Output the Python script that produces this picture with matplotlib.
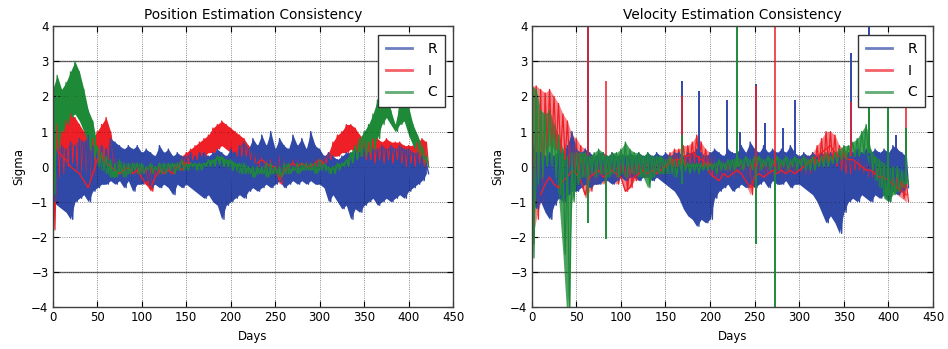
import numpy as np
import matplotlib
matplotlib.use("Agg")
import matplotlib.pyplot as plt
from matplotlib.lines import Line2D

days = np.arange(0, 421, 5)

# Position panel: upper / lower envelopes of each component
pos_R_hi = [0.7,0.5,0.6,0.5,0.7,0.6,0.8,0.7,0.9,0.6,0.5,0.6,0.5,0.8,0.7,0.6,0.5,0.6,0.5,0.6,
            0.4,0.5,0.4,0.3,0.6,0.4,0.5,0.3,0.4,0.3,0.3,0.4,0.3,0.4,0.4,0.3,0.4,0.5,0.4,0.3,
            0.5,0.4,0.6,0.7,0.5,0.8,0.6,0.9,0.6,1.0,0.5,0.8,0.6,0.5,0.9,0.6,0.8,0.5,1.0,0.6,
            0.5,0.3,0.4,0.3,0.2,0.3,0.4,0.4,0.5,0.4,0.5,0.4,0.5,0.5,0.6,0.5,0.6,0.5,0.6,0.5,
            0.5,0.4,0.4,0.3,0.1]
pos_R_lo = [-1.0,-1.1,-1.2,-1.3,-1.5,-1.0,-0.9,-0.8,-1.0,-0.7,-0.6,-0.5,-0.5,-0.4,-0.5,-0.4,-0.6,-0.4,-0.7,-0.5,
            -0.5,-0.4,-0.6,-0.5,-0.6,-0.5,-0.6,-0.8,-0.5,-0.6,-0.5,-0.6,-0.7,-0.8,-0.9,-0.8,-1.0,-1.1,-1.5,-1.1,
            -1.0,-0.9,-0.8,-0.9,-0.7,-0.6,-0.7,-0.6,-0.5,-0.6,-0.5,-0.4,-0.6,-0.5,-0.4,-0.5,-0.4,-0.5,-0.4,-0.5,
            -0.5,-0.6,-1.0,-0.8,-1.0,-1.2,-1.1,-1.5,-1.2,-1.3,-1.1,-1.0,-0.9,-1.1,-1.0,-0.9,-1.0,-0.9,-0.8,-0.9,
            -0.7,-0.6,-0.5,-0.4,-0.2]
pos_I_hi = [1.4,1.2,1.0,1.3,1.5,1.4,1.2,1.0,0.9,0.8,1.0,1.2,1.4,1.0,0.3,0.2,0.2,0.1,0.2,0.1,
            0.1,0.0,0.1,0.0,0.1,0.0,0.0,0.1,0.2,0.3,0.4,0.5,0.6,0.7,0.8,0.9,1.1,1.2,1.3,1.2,
            1.1,1.0,0.9,0.8,0.6,0.5,0.4,0.3,0.3,0.2,0.2,0.3,0.2,0.1,0.2,0.2,0.1,0.2,0.1,0.3,
            0.3,0.3,0.4,0.7,0.9,1.0,1.2,1.2,1.1,0.9,0.8,0.7,0.8,0.8,0.7,0.8,0.7,0.7,0.7,0.6,
            0.6,0.6,0.7,0.8,0.7]
pos_I_lo = [-1.8,-0.3,-0.2,0.0,0.1,-0.1,-0.2,-0.4,-0.6,-0.3,0.0,0.1,0.2,0.0,-0.2,-0.3,-0.3,-0.2,-0.3,-0.4,
            -0.3,-0.5,-0.7,-0.4,-0.3,-0.2,-0.3,-0.2,-0.1,0.0,0.1,0.2,0.2,0.3,0.3,0.4,0.4,0.5,0.6,0.5,
            0.4,0.3,0.3,0.3,0.2,0.1,0.0,-0.1,-0.1,-0.2,-0.1,-0.5,-0.2,-0.1,-0.1,0.0,-0.1,0.0,-0.1,0.0,
            0.0,0.1,0.2,0.3,0.3,0.4,0.4,0.5,0.4,0.3,0.2,0.2,0.1,0.2,0.1,0.2,0.1,0.2,0.1,0.0,
            0.1,0.0,0.1,0.0,0.0]
pos_I_trace = [np.nan,0.5,0.3,0.2,0.0,-0.1,-0.2,-0.4,-0.6,-0.2,0.2,0.3,0.1,0.0,-0.1,-0.2,-0.1,0.0,-0.2,-0.1,
               -0.3,-0.5,-0.6,-0.3,-0.1,-0.2,-0.1,-0.2,0.0,-0.1,0.1,0.1,np.nan,np.nan,np.nan,np.nan,np.nan,np.nan,np.nan,np.nan,
               np.nan,np.nan,np.nan,np.nan,np.nan,np.nan,0.1,0.2,0.1,0.0,0.0,-0.4,-0.1,0.0,0.1,0.0,0.1,0.0,0.0,0.1,
               0.2,0.1,np.nan,np.nan,np.nan,np.nan,np.nan,np.nan,np.nan,np.nan,np.nan,np.nan,np.nan,np.nan,np.nan,np.nan,np.nan,np.nan,np.nan,np.nan,
               np.nan,np.nan,np.nan,np.nan,np.nan]
pos_C_hi = [2.2,2.6,2.2,2.4,2.7,3.0,2.7,2.2,1.6,1.3,0.6,0.4,0.3,0.2,0.1,0.2,0.1,0.1,0.1,0.1,
            0.1,0.0,0.1,0.0,0.1,0.1,0.1,0.1,0.1,0.2,0.1,0.1,0.1,0.1,0.1,0.2,0.2,0.3,0.3,0.2,
            0.2,0.1,0.1,0.1,0.0,0.0,0.0,0.0,0.1,0.1,0.0,0.0,0.1,0.1,0.0,0.1,0.1,0.1,0.1,0.1,
            0.2,0.1,0.0,0.0,0.1,0.1,0.2,0.4,0.6,0.8,1.0,1.2,1.5,1.9,2.3,2.3,1.6,1.2,1.8,2.2,
            1.7,1.2,0.9,0.6,0.3]
pos_C_lo = [-0.8,0.5,1.0,1.2,1.4,1.5,1.3,1.0,0.6,0.3,0.0,-0.1,-0.2,-0.3,-0.3,-0.2,-0.3,-0.2,-0.1,-0.2,
            -0.2,-0.1,-0.2,-0.1,-0.2,-0.2,-0.1,-0.2,-0.1,-0.1,-0.1,0.0,-0.1,-0.1,0.0,0.0,0.0,0.1,0.0,0.0,
            -0.1,-0.1,-0.2,-0.2,-0.2,-0.3,-0.2,-0.2,-0.3,-0.2,-0.2,-0.3,-0.2,-0.2,-0.1,-0.2,-0.1,-0.1,-0.1,-0.2,
            -0.1,-0.1,-0.2,-0.2,-0.1,0.0,0.0,0.1,0.2,0.3,0.3,0.4,0.5,0.8,1.2,1.4,1.2,1.0,1.2,1.3,
            0.9,0.6,0.4,0.2,0.0]

# Velocity panel
vel_R_hi = [0.7,0.4,0.4,0.3,0.4,0.3,0.5,0.4,0.6,1.0,0.5,0.4,0.5,0.4,0.3,0.4,0.4,0.3,0.4,0.3,
            0.4,0.3,0.4,0.3,0.4,0.3,0.4,0.3,0.4,0.3,0.4,0.3,0.4,0.4,0.3,0.4,0.4,0.5,0.4,0.3,
            0.4,0.5,0.4,0.3,0.5,0.4,0.4,0.6,0.4,0.7,0.5,0.4,0.6,0.4,0.5,0.4,0.5,0.4,0.6,0.4,
            0.3,0.4,0.3,0.4,0.3,0.4,0.3,0.4,0.3,0.4,0.3,0.4,0.4,0.5,0.4,0.5,0.4,0.5,0.4,0.5,
            0.4,0.6,0.5,0.4,0.3]
vel_R_lo = [-1.0,-1.2,-1.0,-1.3,-1.5,-1.1,-0.9,-1.0,-0.8,-0.7,-0.7,-0.6,-0.5,-0.6,-0.5,-0.5,-0.4,-0.4,-0.5,-0.4,
            -0.3,-0.4,-0.3,-0.3,-0.4,-0.3,-0.3,-0.4,-0.3,-0.4,-0.5,-0.6,-0.7,-0.9,-1.2,-1.4,-1.5,-1.7,-1.5,-1.6,
            -1.5,-0.9,-0.7,-0.6,-0.5,-0.7,-0.6,-0.5,-0.6,-0.5,-0.6,-0.5,-0.4,-0.6,-0.4,-0.5,-0.5,-0.4,-0.6,-0.5,
            -0.5,-0.6,-0.7,-0.8,-1.0,-1.3,-1.6,-1.4,-1.6,-1.9,-1.3,-1.0,-0.9,-1.0,-0.8,-0.9,-1.0,-0.8,-0.9,-0.8,
            -1.0,-0.7,-0.8,-0.7,-0.6]
vel_I_hi = [2.3,2.3,2.2,2.1,2.2,2.0,1.8,1.5,1.3,0.9,0.8,0.6,0.5,0.3,0.3,0.2,0.3,0.2,0.2,0.1,
            0.2,0.1,0.1,0.2,0.1,0.1,0.2,0.1,0.2,0.2,0.3,0.4,0.5,0.5,0.6,0.6,0.7,0.9,0.7,0.5,
            0.4,0.3,0.2,0.2,0.1,0.2,0.1,0.2,0.1,0.2,0.2,0.1,0.2,0.1,0.2,0.2,0.1,0.2,0.2,0.2,
            0.3,0.3,0.3,0.4,0.6,0.8,1.0,1.0,0.9,0.6,0.5,0.4,0.3,0.3,0.2,0.2,0.1,0.0,0.0,-0.1,
            -0.1,-0.2,-0.3,-0.4,-0.4]
vel_I_lo = [-2.2,-1.5,-1.0,0.5,0.6,0.5,0.4,0.2,0.0,-0.2,-0.3,-0.5,-0.9,-0.7,-0.5,-0.4,-0.5,-0.3,-0.4,-0.5,
            -0.3,-0.7,-0.6,-0.4,-0.3,-0.3,-0.3,-0.2,-0.3,-0.2,-0.1,0.0,0.0,0.0,0.0,0.1,0.1,0.1,0.0,0.0,
            -0.3,-0.4,-0.5,-0.4,-0.3,-0.4,-0.3,-0.3,-0.5,-0.8,-0.4,-0.3,-0.4,-0.3,-0.4,-0.3,-0.4,-0.3,-0.4,-0.3,
            -0.2,-0.3,-0.2,-0.1,0.0,0.0,0.1,0.1,0.0,-0.1,-0.2,-0.2,-0.1,-0.1,-0.2,-0.3,-0.3,-0.4,-0.5,-0.6,
            -0.6,-0.7,-0.8,-0.9,-1.0]
vel_I_trace = [np.nan,np.nan,-0.8,-0.5,-0.3,-0.5,-0.6,-0.4,-0.3,-0.1,-0.2,-0.4,-0.8,-0.3,-0.2,-0.1,-0.3,-0.2,-0.1,-0.2,
               -0.3,-0.7,-0.6,-0.3,-0.2,-0.1,-0.2,-0.1,-0.2,-0.1,0.0,0.1,0.2,0.2,0.3,0.3,0.4,0.3,0.2,0.1,
               -0.2,-0.3,-0.4,-0.2,-0.3,-0.2,-0.1,-0.2,-0.4,-0.6,-0.3,-0.2,-0.3,-0.2,-0.1,-0.2,-0.1,-0.2,-0.1,-0.2,
               -0.1,0.0,0.1,0.2,0.3,0.4,0.5,0.6,0.4,0.3,0.3,0.2,0.2,0.1,0.0,-0.1,-0.1,-0.2,-0.3,-0.3,
               -0.4,-0.5,-0.6,-0.7,-0.8]
vel_C_hi = [2.3,2.2,1.6,1.5,1.6,1.2,0.9,0.5,0.3,0.4,0.4,0.4,0.4,0.3,0.4,0.5,0.4,0.3,0.4,0.4,
            0.5,0.7,0.5,0.4,0.4,0.3,0.4,0.3,0.3,0.3,0.2,0.3,0.2,0.2,0.2,0.1,0.1,0.1,0.1,0.1,
            0.1,0.1,0.2,0.1,0.2,0.2,0.3,0.2,0.3,0.2,0.3,0.3,0.2,0.3,0.2,0.3,0.2,0.3,0.2,0.3,
            0.2,0.3,0.2,0.3,0.2,0.3,0.4,0.3,0.4,0.5,0.6,0.6,0.7,0.8,1.0,1.2,0.5,0.3,0.2,0.1,
            0.0,0.0,0.0,-0.1,-0.2]
vel_C_lo = [-2.6,-0.5,-0.3,0.0,0.2,-0.3,-0.8,-2.5,-4.5,-1.0,-0.5,-0.3,-0.3,-0.2,-0.3,-0.2,-0.2,-0.3,-0.2,-0.3,
            -0.2,-0.3,-0.2,-0.2,-0.3,-0.3,-0.6,-0.3,-0.2,-0.2,-0.2,-0.2,-0.3,-0.1,-0.1,-0.2,-0.1,-0.2,-0.1,-0.1,
            -0.1,-0.2,-0.1,-0.1,-0.1,-0.1,0.0,-0.1,0.0,-0.1,0.0,-0.1,0.0,-0.1,0.0,-0.1,0.0,-0.1,0.0,-0.1,
            0.0,-0.1,-0.1,-0.1,0.0,0.0,0.0,0.1,0.1,0.2,0.2,0.3,0.3,0.3,0.4,0.3,-0.1,-0.4,-0.6,-0.9,
            -1.0,-0.8,-0.7,-0.6,-0.5]

# isolated spikes in the velocity panel: day, lower end, upper end
vel_R_spk_day = [63, 168, 188, 219, 233, 252, 262, 282, 295, 358, 378, 408]
vel_R_spk_lo  = [0.3, 0.3, 0.3, 0.3, 0.3, 0.3, 0.3, 0.3, 0.3, 0.3, 0.3, 0.3]
vel_R_spk_hi  = [4.2, 2.45, 2.15, 1.9, 1.0, 2.35, 1.25, 1.1, 1.9, 3.25, 4.2, 0.9]
vel_I_spk_day = [63, 83, 168, 252, 273, 358, 420]
vel_I_spk_lo  = [0.3, 0.3, 0.3, -0.5, -0.3, 0.3, 0.3]
vel_I_spk_hi  = [4.2, 2.45, 2.0, 2.3, 4.2, 1.85, 2.0]
vel_C_spk_day = [63, 83, 168, 230, 252, 273, 378, 399, 420]
vel_C_spk_lo  = [-1.6, -2.05, -0.5, 0.0, -2.2, -4.2, 0.4, -0.8, -0.5]
vel_C_spk_hi  = [0.0, 0.0, 0.9, 4.2, 0.0, 0.0, 2.0, 2.0, 1.1]

labels = ["R", "I", "C"]
titles = ["Position Estimation Consistency", "Velocity Estimation Consistency"]
xticks = [0, 50, 100, 150, 200, 250, 300, 350, 400, 450]
yticks = [-4, -3, -2, -1, 0, 1, 2, 3, 4]

C_R = "#3049a6"
C_I = "#ee1f27"
C_C = "#1e8a38"

# ---------------- drawing ----------------
def band(ax, hi, lo, color, lw=0.9, fill_alpha=1.0):
    d = np.asarray(days, float)
    ax.fill_between(d, lo, hi, color=color, linewidth=0, alpha=fill_alpha)
    x = np.empty(2 * len(d)); y = np.empty(2 * len(d))
    x[0::2] = d; x[1::2] = d + 2.5
    y[0::2] = hi; y[1::2] = lo
    ax.plot(x, y, color=color, lw=lw)

def style(ax, title):
    ax.set_xlim(0, 450)
    ax.set_ylim(-4, 4)
    ax.set_xticks(xticks)
    ax.set_yticks(yticks)
    ax.grid(True, color="k", linestyle=":", linewidth=0.6, alpha=0.6)
    ax.axhline(3, color="0.45", lw=1.0, zorder=0.5)
    ax.axhline(-3, color="0.45", lw=1.0, zorder=0.5)
    ax.tick_params(direction="in", top=True, right=True, labelsize=8.5, length=4, pad=3)
    ax.set_title(title, fontsize=9.8, pad=5)
    ax.set_xlabel("Days", fontsize=8.5, labelpad=4)
    ax.set_ylabel("Sigma", fontsize=8.5, labelpad=4)
    for s in ax.spines.values():
        s.set_linewidth(1.0)
        s.set_color("0.25")
    handles = [Line2D([], [], color=c, lw=2, alpha=0.7) for c in (C_R, C_I, C_C)]
    leg = ax.legend(handles, labels, loc="upper right", fontsize=10, fancybox=False,
                    handlelength=1.9, handletextpad=1.1, labelspacing=0.55,
                    borderpad=0.55, borderaxespad=0.6, framealpha=1.0)
    leg.get_frame().set_edgecolor("0.2")
    leg.get_frame().set_linewidth(1.0)
    leg.set_zorder(10)

fig = plt.figure(figsize=(9.48, 3.49), dpi=100)
ax1 = fig.add_axes([0.0556, 0.120, 0.4223, 0.805])
ax2 = fig.add_axes([0.5609, 0.120, 0.4233, 0.805])

# position
band(ax1, pos_I_hi, pos_I_lo, C_I)
band(ax1, pos_R_hi, pos_R_lo, C_R, lw=1.0)
ax1.plot(days, pos_I_trace, color=C_I, lw=1.0)
band(ax1, pos_C_hi, pos_C_lo, C_C)

# velocity
band(ax2, vel_I_hi, vel_I_lo, C_I, fill_alpha=0.55)
band(ax2, vel_R_hi, vel_R_lo, C_R, lw=1.0)
ax2.plot(days, vel_I_trace, color=C_I, lw=1.0)
band(ax2, vel_C_hi, vel_C_lo, C_C, fill_alpha=0.8)
ax2.vlines(vel_R_spk_day, vel_R_spk_lo, vel_R_spk_hi, color=C_R, lw=1.4)
ax2.vlines(vel_I_spk_day, vel_I_spk_lo, vel_I_spk_hi, color=C_I, lw=1.4, alpha=0.8)
ax2.vlines(vel_C_spk_day, vel_C_spk_lo, vel_C_spk_hi, color=C_C, lw=1.4)

style(ax1, titles[0])
style(ax2, titles[1])

fig.savefig("out.png", dpi=100, facecolor="white")
